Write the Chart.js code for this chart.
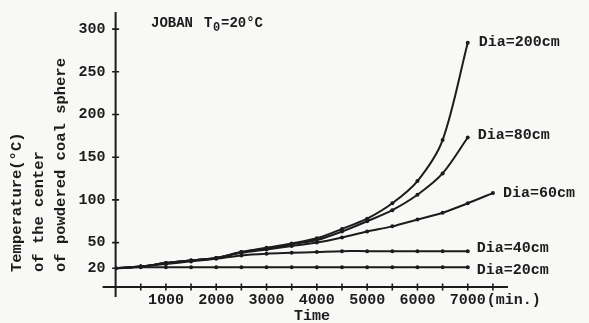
<!DOCTYPE html>
<html><head><meta charset="utf-8">
<script src="https://cdn.jsdelivr.net/npm/chart.js@4.4.0/dist/chart.umd.min.js"></script>
<style>html,body{margin:0;padding:0;background:#f8f8f6;}#wrap{width:589px;height:323px;}</style>
</head><body><div id="wrap"><canvas id="c" width="589" height="323"></canvas></div>
<script>
// time in minutes
const times = [0,500,1000,1500,2000,2500,3000,3500,4000,4500,5000,5500,6000,6500,7000,7500];
// temperature at centre (°C)
const dia200 = [20,22,26,29,32,39,44,49,55,66,78,96,122,170,284];
const dia80  = [20,22,26,29,32,39,43,48,53,63,75,88,106,131,173];
const dia60  = [20,22,26,29,32,38,42,46,50,56,63,69,77,85,96,108];
const dia40  = [20,22,25,28,31,35,37,38,39,40,40,40,40,40,40];
const dia20  = [20,21,21,21,21,21,21,21,21,21,21,21,21,21,21];
const seriesNames = ['Dia=200cm','Dia=80cm','Dia=60cm','Dia=40cm','Dia=20cm'];
const xTickValues = [500,1000,1500,2000,2500,3000,3500,4000,4500,5000,5500,6000,6500,7000,7500];
const xTickLabels = {1000:'1000',2000:'2000',3000:'3000',4000:'4000',5000:'5000',6000:'6000',7000:'7000'};
const yTickValues = [20,50,100,150,200,250,300];

const INK = '#1c1c1c';
const FONT = '"Liberation Mono", "Courier New", monospace';

function pts(arr){ return arr.map((v,i)=>({x:times[i], y:v})); }
const allSeries = [dia200, dia80, dia60, dia40, dia20];
const datasets = allSeries.map((arr,i)=>({
  label: seriesNames[i],
  data: pts(arr),
  borderColor: INK, borderWidth: 2,
  pointRadius: 2, pointBackgroundColor: INK, pointBorderWidth: 0,
  tension: 0.3, fill: false
}));

const decor = {
  id: 'decor',
  afterDraw(chart){
    const ctx = chart.ctx, xs = chart.scales.x, ys = chart.scales.y, a = chart.chartArea;
    ctx.save();
    ctx.strokeStyle = INK; ctx.fillStyle = INK; ctx.lineWidth = 2;
    // axes
    ctx.beginPath();
    ctx.moveTo(a.left - 13, a.bottom); ctx.lineTo(a.right, a.bottom);
    ctx.moveTo(a.left, a.top); ctx.lineTo(a.left, a.bottom + 10);
    ctx.stroke();
    ctx.lineWidth = 1.6;
    ctx.beginPath();
    xTickValues.forEach(v=>{ const p = xs.getPixelForValue(v); ctx.moveTo(p, a.bottom-3.5); ctx.lineTo(p, a.bottom+3.5); });
    yTickValues.forEach(v=>{ const p = ys.getPixelForValue(v); ctx.moveTo(a.left-3.5, p); ctx.lineTo(a.left+3.5, p); });
    ctx.stroke();
    // unit after 7000
    ctx.font = 'bold 15px ' + FONT;
    ctx.textBaseline = 'middle'; ctx.textAlign = 'left';
    const w7 = ctx.measureText('7000').width;
    ctx.fillText('(min.)', xs.getPixelForValue(7000) + w7/2 + 1, a.bottom + 13);
    // x title
    ctx.textAlign = 'center';
    ctx.fillText('Time', 312, 316);
    // title
    ctx.textAlign = 'left';
    ctx.font = 'bold 14px ' + FONT;
    ctx.fillText('JOBAN', 151, 23);
    ctx.fillText('T', 204, 23);
    ctx.font = 'bold 12px ' + FONT;
    ctx.fillText('0', 213, 28);
    ctx.font = 'bold 14px ' + FONT;
    ctx.fillText('=20°C', 221, 23);
    // y title (three rotated lines, starting at bottom)
    ctx.font = 'bold 15.5px ' + FONT;
    const lines = ['Temperature(°C)','of the center','of powdered coal sphere'];
    const xsPos = [17, 39, 61];
    lines.forEach((t,i)=>{
      ctx.save();
      ctx.translate(xsPos[i], 272);
      ctx.rotate(-Math.PI/2);
      ctx.textAlign = 'left'; ctx.textBaseline = 'middle';
      ctx.fillText(t, 0, 0);
      ctx.restore();
    });
    // series labels
    ctx.font = 'bold 15px ' + FONT;
    ctx.textAlign = 'left'; ctx.textBaseline = 'middle';
    const last = (arr)=>arr[arr.length-1];
    const lab = [
      [seriesNames[0], times[dia200.length-1], last(dia200), 11, -1],
      [seriesNames[1], times[dia80.length-1], last(dia80), 10, -2],
      [seriesNames[2], times[dia60.length-1], last(dia60), 10, 0],
      [seriesNames[3], times[dia40.length-1], last(dia40), 9, -3],
      [seriesNames[4], times[dia20.length-1], last(dia20), 9, 3]
    ];
    lab.forEach(([t,xv,yv,dx,dy])=>{
      ctx.fillText(t, xs.getPixelForValue(xv)+dx, ys.getPixelForValue(yv)+dy);
    });
    ctx.restore();
  }
};

new Chart(document.getElementById('c'), {
  type: 'line',
  data: { datasets },
  options: {
    responsive: false, animation: false,
    layout: { padding: { top: 12, right: 81, left: 0, bottom: 0 } },
    plugins: { legend: { display: false }, tooltip: { enabled: false } },
    scales: {
      x: {
        type: 'linear', min: 0, max: 7800,
        afterFit: s => { s.height = 36; },
        afterBuildTicks: s => { s.ticks = xTickValues.map(v=>({value:v})); },
        ticks: { callback: v => xTickLabels[v] || '', autoSkip: false, maxRotation: 0, padding: -4,
                 color: INK, font: { family: FONT, size: 15, weight: 'bold' } },
        grid: { display: false }, border: { display: false }
      },
      y: {
        type: 'linear', min: -2, max: 320,
        afterFit: s => { s.width = 115.6; },
        afterBuildTicks: s => { s.ticks = yTickValues.map(v=>({value:v})); },
        ticks: { autoSkip: false, padding: 2, color: INK, font: { family: FONT, size: 15, weight: 'bold' } },
        grid: { display: false }, border: { display: false }
      }
    }
  },
  plugins: [decor]
});
</script></body></html>
